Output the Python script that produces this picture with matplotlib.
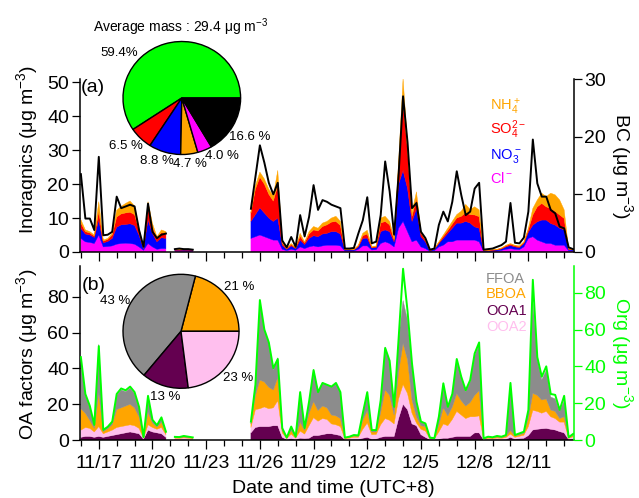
import numpy as np
import matplotlib
matplotlib.use('Agg')
import matplotlib.pyplot as plt
from matplotlib.ticker import FixedLocator, NullFormatter

plt.rcParams['font.family'] = ['Liberation Sans', 'DejaVu Sans']
plt.rcParams['mathtext.default'] = 'regular'

nan = float('nan')

# ---------------- data ----------------
# one sample every 6 h; day 0 = 11/16 00:00 (UTC+8)
SAMPLE_STEP_DAYS = 0.25
N_SAMPLES = 111
GAP_A = [nan]          # short break 11/21
GAP_B = [nan] * 12     # no data 11/22 12:00 - 11/25 06:00

# ---- panel (a): inorganics (ug m-3) and BC ----
cl_1 = [4, 3, 2.8, 2.5, 5, 1.5, 1.6, 1.8, 2.3, 2.5, 2.6, 2.5, 2.3, 1.5, 0.5, 2.5, 1.5, 0.8, 1, 1]
no3_1 = [3, 2.3, 2.2, 1.8, 4.5, 1.2, 1.5, 2.2, 5, 5.5, 5.5, 5.8, 5.5, 3.5, 0.5, 7, 4, 2.2, 3.2, 3]
so4_1 = [1.5, 0.7, 0.6, 0.4, 2.5, 0.5, 0.6, 1, 3, 3.2, 3.4, 3.4, 3.2, 1.3, 0.2, 3.5, 1.9, 1, 1.5, 1.3]
nh4_1 = [1, 0.5, 0.4, 0.3, 2.8, 0.3, 0.3, 0.5, 2, 2.2, 2.8, 3.3, 2.5, 0.7, 0.2, 1.8, 1, 0.5, 0.8, 0.7]
bc_1 = [13.5, 5.8, 5.8, 3.8, 16.5, 2.9, 3, 3.5, 9.6, 7.6, 7.9, 8.2, 7.9, 3.8, 0.9, 8.4, 3.5, 2.4, 3, 3.2]

cl_2 = [0.3, 0.3, 0.3, 0.3, 0.3]
no3_2 = [0.2, 0.2, 0.25, 0.2, 0.2]
so4_2 = [0.2, 0.2, 0.2, 0.2, 0.15]
nh4_2 = [0.1, 0.1, 0.1, 0.1, 0.1]
bc_2 = [0.5, 0.6, 0.5, 0.5, 0.4]

cl_3 = [4, 4.5, 5, 4.5, 4, 3.5, 3.5,
        0.8, 0.4, 0.8, 0.5, 1.5, 1, 1.5,
        1.8, 1.5, 1.8, 2, 2, 2, 1.8,
        0.3, 0.3, 0.3, 0.8, 1.8, 1.8, 0.6,
        0.7, 2.5, 3, 2.5, 1.5, 7, 9,
        6, 3, 3.5, 1.5, 1, 0.2, 0.4,
        1.5, 2, 3, 3, 3.5, 3.5, 3.5,
        3.5, 3.5, 3, 0.2, 0.2, 0.3, 0.3,
        0.5, 0.8, 1, 0.8, 0.7, 1.5, 4,
        4.5, 3.5, 3, 2.5, 2.5, 2, 2,
        2, 0.4, 0.3]
no3_3 = [5, 6.5, 8, 7, 6, 5.5, 6.5,
         1.2, 0.4, 1, 0.5, 2, 1.2, 2.5,
         3, 3, 3.5, 3.5, 4, 4, 3.5,
         0.3, 0.3, 0.3, 0.7, 2.2, 2.3, 0.6,
         0.6, 3.5, 3.5, 3.5, 1.5, 13, 15,
         12.7, 6, 9.3, 3, 2, 0.2, 0.4,
         1, 2, 2.5, 4, 5, 5, 5.5,
         5, 3.9, 4, 0.2, 0.2, 0.2, 0.3,
         0.4, 0.7, 0.9, 0.7, 0.6, 1, 1.8,
         3.4, 5.4, 6.4, 6.9, 5.9, 5.9, 5,
         4.5, 0.3, 0.3]
so4_3 = [2.5, 7.5, 9, 8.5, 7, 6, 9.5,
         0.6, 0.2, 0.4, 0.2, 1.2, 0.5, 1.3,
         1.7, 1.7, 2.2, 2.5, 2.8, 3, 2.5,
         0.1, 0.1, 0.1, 0.3, 0.8, 1.2, 0.2,
         0.3, 2.5, 2.5, 2, 0.6, 5, 20,
         11.3, 1.5, 3, 1, 0.6, 0.1, 0.1,
         0.3, 0.6, 0.8, 1.2, 1.5, 2, 2.5,
         2.5, 3.5, 3.4, 0.1, 0.1, 0.1, 0.1,
         0.2, 0.3, 0.4, 0.3, 0.3, 0.3, 0.7,
         3, 4.4, 4.9, 3.9, 4.4, 4, 3.9,
         3.4, 0.2, 0.1]
nh4_3 = [0.5, 1, 1.5, 1.5, 1.5, 1.5, 4.5,
         0.4, 0.2, 0.3, 0.1, 0.8, 0.3, 0.7,
         1, 0.8, 1, 1, 1.2, 1.5, 1.2,
         0.1, 0.1, 0.1, 0.2, 0.7, 1.1, 0.2,
         0.2, 1.5, 1.5, 1, 0.4, 1.5, 7,
         2, 1.3, 1.9, 0.5, 0.4, 0.1, 0.1,
         0.2, 0.4, 0.7, 0.8, 1, 1.5, 2.5,
         1.5, 2.4, 2, 0.1, 0.1, 0.1, 0.1,
         0.1, 0.2, 0.2, 0.2, 0.2, 0.2, 0.5,
         1.9, 2, 3, 3, 4.5, 4.9, 4.4,
         2.5, 0.1, 0.1]
bc_3 = [7.5, 13, 18.5, 15.5, 12, 10, 12,
        2, 0.8, 2.6, 0.9, 6.4, 2.7, 6.1,
        11.6, 7.3, 9, 8.7, 8.2, 7.9, 7.6,
        0.6, 0.6, 0.7, 3.2, 5.5, 9.5, 1.5,
        1.8, 6.4, 15.7, 10.5, 3, 13.4, 27,
        19, 7.6, 8.5, 3.5, 2.4, 0.4, 0.6,
        4.7, 7, 5.3, 8.7, 14, 9.9, 6.4,
        7, 11, 12, 0.4, 0.5, 0.6, 0.9,
        1.2, 1.8, 8.5, 1.6, 1.5, 2.5, 7,
        19.5, 11.9, 9.6, 9.6, 7.3, 6.7, 4.4,
        4.1, 0.8, 0.5]

# ---- panel (b): OA factors (ug m-3) and Org ----
ooa1_1 = [1.5, 2, 2, 1.5, 2, 1.5, 2, 2.5, 3, 3.5, 4, 4.5, 4, 3.5, 0.5, 5.5, 4.5, 4, 3.5, 1.5]
ooa2_1 = [4, 5, 4.5, 3, 5.5, 2, 2.5, 3, 4, 4, 4, 4, 4, 3, 0.5, 3, 2.5, 2, 3.5, 1.5]
bboa_1 = [12, 8, 4.5, 2, 19, 1.2, 1.8, 3, 10, 10.5, 11, 11.5, 10, 6.5, 0.3, 7, 2.5, 1.2, 3, 1]
ffoa_1 = [26, 10, 7.5, 1.8, 27, 0.8, 1, 1.5, 8, 10, 8, 9, 8, 5, 0.2, 8.5, 1.5, 0.8, 2.5, 0.5]
org_1 = [45, 25, 18.5, 8.2, 51, 5.5, 7.2, 10, 25, 28, 27, 29, 26, 18, 1.5, 24, 11, 8, 12.3, 4.5]

ooa1_2 = [0.2, 0.2, 0.3, 0.2, 0.2]
ooa2_2 = [0.8, 0.7, 0.9, 0.8, 0.6]
bboa_2 = [0.4, 0.4, 0.5, 0.4, 0.3]
ffoa_2 = [0.3, 0.3, 0.4, 0.3, 0.3]
org_2 = [1.7, 1.6, 2.2, 1.8, 1.4]

ooa1_3 = [4, 7, 7.5, 7.5, 7.5, 8, 8,
          1.5, 0.3, 0.8, 0.3, 1, 0.8, 1,
          2.5, 2.5, 3, 3.5, 3.5, 3, 2.5,
          0.2, 0.2, 0.3, 0.3, 1, 1.5, 0.5,
          0.6, 1.5, 2, 2, 2, 12, 20,
          17, 9, 8, 3, 1.5, 0.2, 0.2,
          0.5, 1, 1, 1.5, 2, 2, 2,
          2, 4, 4, 0.2, 0.3, 0.2, 0.3,
          0.3, 0.4, 1.5, 0.5, 0.8, 1, 2.5,
          5.6, 6, 6.3, 6.5, 6, 5.6, 4.7,
          4, 0.3, 0.5]
ooa2_3 = [3, 10, 10, 11, 10, 10, 14,
          2.5, 0.5, 2.5, 0.7, 4, 2.5, 7,
          10, 8, 9, 8, 5.5, 5.5, 5,
          0.5, 0.8, 1.2, 1.2, 5, 8, 2.5,
          2.5, 7, 10, 9, 7, 11, 11,
          9, 6, 1.5, 3, 3.5, 0.5, 0.4,
          4, 8, 7, 10, 14, 12, 10,
          11, 9, 9.5, 0.3, 0.6, 0.5, 0.8,
          0.6, 1, 1.8, 1, 1.3, 1.7, 5,
          11, 10, 8.7, 9.5, 7, 6.4, 5.3,
          6, 0.6, 1.3]
bboa_3 = [2, 8, 16, 14, 12, 10, 13,
          1.5, 0.3, 2, 0.4, 5, 2, 7,
          9, 6, 7, 6.5, 5, 5, 4.5,
          0.3, 0.5, 0.7, 0.6, 5, 7, 1.5,
          1.4, 7, 16, 14, 5, 15, 23,
          19, 7.5, 3.5, 2, 2.5, 0.3, 0.2,
          4, 9, 5.5, 7, 10, 8, 7,
          8, 12, 14, 0.2, 0.5, 0.4, 0.6,
          0.5, 0.7, 2, 0.7, 0.8, 1, 4.5,
          9.5, 9, 7.4, 7, 3.8, 4, 2,
          3, 0.3, 0.8]
ffoa_3 = [1, 6, 44, 29, 24, 11, 11,
          1, 0.2, 2, 0.4, 17, 1.2, 6,
          18, 10.5, 13, 13, 16, 18, 15,
          0.3, 0.3, 0.5, 0.4, 3.5, 9.5, 1,
          1, 6.5, 24, 19, 4.5, 18, 24,
          22, 18.5, 8, 2, 1.5, 0.3, 0.2,
          4.2, 13, 4.5, 6.5, 18, 12.5, 8,
          11.5, 22, 26, 0.2, 0.4, 0.4, 0.5,
          0.4, 0.6, 26, 0.5, 0.7, 0.8, 4.3,
          52, 20, 11.2, 16, 7.2, 7, 4,
          9, 0.3, 0.7]
org_3 = [10, 30, 76, 60, 53, 39, 44,
         6.5, 1.3, 7.3, 1.8, 26, 6.5, 21,
         38, 26, 31, 30, 29, 31, 26,
         1.3, 1.8, 2.7, 2.5, 14.5, 26, 5.4,
         5.4, 21.7, 50, 43, 18, 55, 93,
         70, 41.5, 20.8, 10, 9, 1.3, 1,
         12.7, 30.8, 18, 25, 44, 34.4, 27,
         32.6, 47, 53, 0.9, 1.8, 1.5, 2.2,
         1.8, 2.7, 31, 2.7, 3.6, 4.5, 16.3,
         87, 45, 34.4, 40, 25, 24.5, 16.3,
         24, 1.5, 3.3]

cl = cl_1 + GAP_A + cl_2 + GAP_B + cl_3
no3 = no3_1 + GAP_A + no3_2 + GAP_B + no3_3
so4 = so4_1 + GAP_A + so4_2 + GAP_B + so4_3
nh4 = nh4_1 + GAP_A + nh4_2 + GAP_B + nh4_3
bc = bc_1 + GAP_A + bc_2 + GAP_B + bc_3
ooa1 = ooa1_1 + GAP_A + ooa1_2 + GAP_B + ooa1_3
ooa2 = ooa2_1 + GAP_A + ooa2_2 + GAP_B + ooa2_3
bboa = bboa_1 + GAP_A + bboa_2 + GAP_B + bboa_3
ffoa = ffoa_1 + GAP_A + ffoa_2 + GAP_B + ffoa_3
org = org_1 + GAP_A + org_2 + GAP_B + org_3

# pies
pie_a_values = [59.4, 6.5, 8.8, 4.7, 4.0, 16.6]          # Org, SO4, NO3, NH4, Cl, BC
pie_a_labels = ['59.4%', '6.5 %', '8.8 %', '4.7 %', '4.0 %', '16.6 %']
pie_b_values = [21, 43, 13, 23]                            # BBOA, FFOA, OOA1, OOA2
pie_b_labels = ['21 %', '43 %', '13 %', '23 %']
avg_mass_text = 'Average mass : 29.4 μg m$^{-3}$'

date_tick_days = [1, 4, 7, 10, 13, 16, 19, 22, 25]
date_tick_labels = ['11/17', '11/20', '11/23', '11/26', '11/29', '12/2', '12/5', '12/8', '12/11']
day_ticks = list(range(0, 28))

for s in (cl, no3, so4, nh4, bc, ooa1, ooa2, bboa, ffoa, org):
    assert len(s) == N_SAMPLES, len(s)
days = np.arange(N_SAMPLES) * SAMPLE_STEP_DAYS

# ---------------- style ----------------
C_CL, C_NO3, C_SO4, C_NH4 = '#FF00FF', '#0000FF', '#FF0000', '#FFA500'
C_ORG = '#00FF00'
C_FFOA, C_BBOA, C_OOA1, C_OOA2 = '#8C8C8C', '#FFA500', '#640050', '#FFBFEE'

W, H = 639, 498
fig = plt.figure(figsize=(W / 100, H / 100), dpi=100)


def box(l, t, r, b):
    return [l / W, 1 - b / H, (r - l) / W, (b - t) / H]


def stack(ax, layers, colors):
    base = np.zeros(N_SAMPLES)
    for y, c in zip(layers, colors):
        top = base + np.asarray(y, dtype=float)
        ax.fill_between(days, base, top, facecolor=c, edgecolor=c, linewidth=0.3)
        base = top


FS_TICK = 14


def style_pair(ax, ax2, right_color, show_labels):
    for a in (ax, ax2):
        a.spines['top'].set_visible(False)
    ax.spines['right'].set_visible(False)
    ax2.spines['left'].set_visible(False)
    ax2.spines['bottom'].set_visible(False)
    for sp in ('left', 'bottom'):
        ax.spines[sp].set_linewidth(1.1)
    ax2.spines['right'].set_linewidth(1.1)
    ax2.spines['right'].set_color(right_color)
    ax.set_xlim(-0.05, 27.55)
    ax.xaxis.set_major_locator(FixedLocator(date_tick_days))
    ax.xaxis.set_minor_locator(FixedLocator(day_ticks))
    if show_labels:
        ax.set_xticklabels(date_tick_labels)
    else:
        ax.xaxis.set_major_formatter(NullFormatter())
    ax.tick_params(axis='x', which='major', direction='out', length=6.5, width=0.9,
                   labelsize=FS_TICK, pad=4.5)
    ax.tick_params(axis='x', which='minor', direction='out', length=4.2, width=0.9)
    ax.tick_params(axis='y', direction='out', length=6, width=0.9, labelsize=FS_TICK, pad=2)
    ax2.tick_params(axis='y', direction='out', length=5.5, width=0.9, labelsize=FS_TICK, pad=2,
                    colors=right_color)


# ---- panel (a)
axA = fig.add_axes(box(80, 79, 574, 252))
axA2 = axA.twinx()
stack(axA, [cl, no3, so4, nh4], [C_CL, C_NO3, C_SO4, C_NH4])
axA2.plot(days, bc, color='black', lw=1.4)
axA.set_ylim(0, 50.9)
axA2.set_ylim(0, 30)
axA.set_yticks([0, 10, 20, 30, 40, 50])
axA2.set_yticks([0, 10, 20, 30])
style_pair(axA, axA2, 'black', False)

# ---- panel (b)
axB = fig.add_axes(box(80, 266, 574, 440))
axB2 = axB.twinx()
stack(axB, [ooa1, ooa2, bboa, ffoa], [C_OOA1, C_OOA2, C_BBOA, C_FFOA])
axB2.plot(days, org, color=C_ORG, lw=1.4)
axB.set_ylim(0, 97.3)
axB2.set_ylim(0, 94.5)
axB.set_yticks([0, 20, 40, 60, 80])
axB2.set_yticks([0, 20, 40, 60, 80])
style_pair(axB, axB2, C_ORG, True)

# ---- axis titles
fs_lab = 14
fig.text(27 / W, 1 - 149 / H, 'Inoragnics (μg m$^{-3}$)', rotation=90, ha='center', va='center', fontsize=fs_lab)
fig.text(622 / W, 1 - 166 / H, 'BC (μg m$^{-3}$)', rotation=270, ha='center', va='center', fontsize=fs_lab)
fig.text(27 / W, 1 - 354 / H, 'OA factors (μg m$^{-3}$)', rotation=90, ha='center', va='center', fontsize=fs_lab)
fig.text(622 / W, 1 - 353 / H, 'Org (μg m$^{-3}$)', rotation=270, ha='center', va='center', fontsize=fs_lab,
         color=C_ORG)
fig.text(333 / W, 1 - 488 / H, 'Date and time (UTC+8)', ha='center', va='center', fontsize=fs_lab)

fig.text(81 / W, 1 - 88 / H, '(a)', ha='left', va='center', fontsize=14)
fig.text(82 / W, 1 - 285 / H, '(b)', ha='left', va='center', fontsize=14)

# ---- in-plot legends (coloured words)
fs_leg = 10.5
for txt, col, yb in [('NH$_4^+$', C_NH4, 111), ('SO$_4^{2-}$', C_SO4, 134),
                     ('NO$_3^-$', C_NO3, 159), ('Cl$^-$', C_CL, 183)]:
    fig.text(490 / W, 1 - yb / H, txt, color=col, ha='left', va='baseline', fontsize=fs_leg)
for txt, col, yb in [('FFOA', C_FFOA, 282.7), ('BBOA', C_BBOA, 298.3),
                     ('OOA1', C_OOA1, 315), ('OOA2', C_OOA2, 330.7)]:
    fig.text(486 / W, 1 - yb / H, txt, color=col, ha='left', va='baseline', fontsize=fs_leg)


# ---- pies
def pie(cx, cy, rx, ry, values, colors):
    pad = 1.02
    ax = fig.add_axes(box(cx - rx * pad, cy - ry * pad, cx + rx * pad, cy + ry * pad))
    ax.pie(values, colors=colors, startangle=0, counterclock=True,
           wedgeprops=dict(edgecolor='black', linewidth=1.0))
    ax.set_aspect('auto')
    ax.set_xlim(-pad, pad)
    ax.set_ylim(-pad, pad)
    ax.axis('off')
    return ax


pie(181.8, 98, 58.8, 56.5, pie_a_values, [C_ORG, C_SO4, C_NO3, C_NH4, C_CL, 'black'])
pie(181, 331.3, 58, 57, pie_b_values, [C_BBOA, C_FFOA, C_OOA1, C_OOA2])

fs_pie = 9.5
fig.text(180 / W, 1 - 27 / H, avg_mass_text, ha='center', va='center', fontsize=10)
pie_a_pos = [(100, 52.5), (109, 146), (140, 160.5), (173, 164), (205, 156), (229, 137)]
for lab, (x, y) in zip(pie_a_labels, pie_a_pos):
    fig.text(x / W, 1 - y / H, lab, ha='left', va='center', fontsize=fs_pie)
pie_b_pos = [(224, 287), (100, 301), (150, 396.5), (223, 377.5)]
for lab, (x, y) in zip(pie_b_labels, pie_b_pos):
    fig.text(x / W, 1 - y / H, lab, ha='left', va='center', fontsize=fs_pie)

fig.savefig('out.png', dpi=100)
